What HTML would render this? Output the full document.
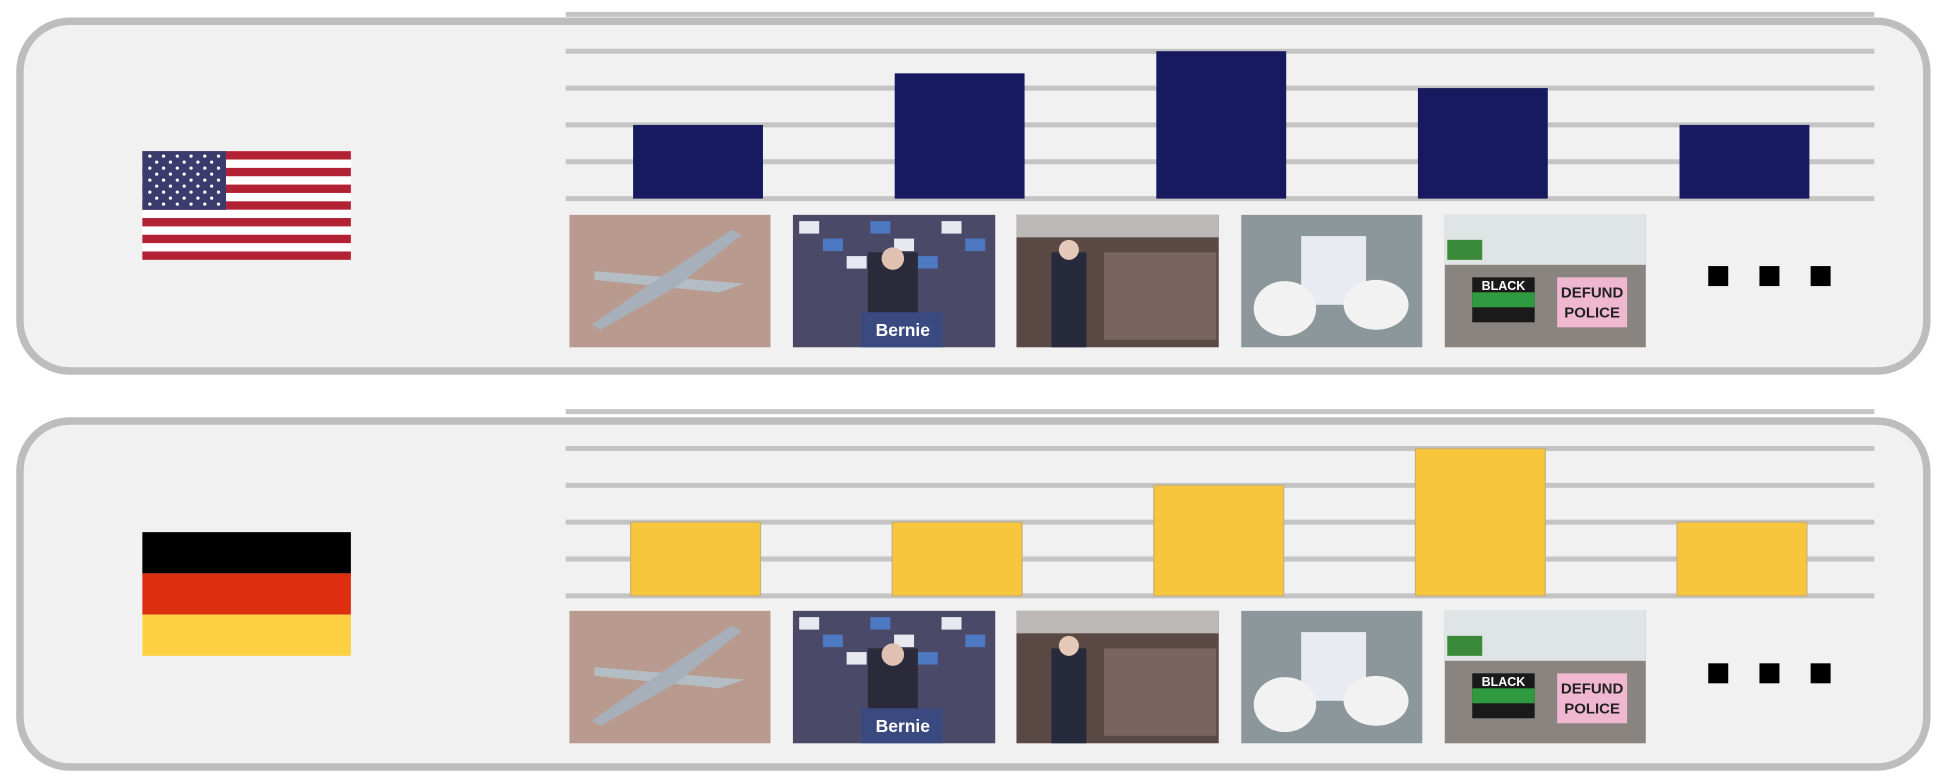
<!DOCTYPE html>
<html><head><meta charset="utf-8"><style>
html,body{margin:0;padding:0;background:#fff;}
svg{display:block;font-family:"Liberation Sans",sans-serif;}
</style></head><body>
<svg id="chart" width="1948" height="782" viewBox="0 0 1560 626" preserveAspectRatio="none" xmlns="http://www.w3.org/2000/svg"></svg>
<script>
const topics = ["drone", "bernie", "biden", "masks", "blm"];
const usValues = [2, 3.4, 4, 3, 2];
const deValues = [2, 2, 3, 4, 2];
const gridTicks = [0, 1, 2, 3, 4, 5];

const NS = "http://www.w3.org/2000/svg";
const svg = document.getElementById("chart");
function mk(tag, attrs, parent) {
  const e = document.createElementNS(NS, tag);
  for (const k in attrs) e.setAttribute(k, attrs[k]);
  (parent || svg).appendChild(e);
  return e;
}

const panels = [
  {name:"us", top:17, bottom:297, base:159, unit:29.5, values:usValues, color:"#171a5e", barX0:507, photoY:172},
  {name:"germany", top:337, bottom:614, base:477, unit:29.5, values:deValues, color:"#f8c63c", barX0:505, photoY:489}
];
const photoXs = [[456,617],[635,797],[814,976],[994,1139],[1157,1318]];

panels.forEach(p => {
  const g = mk("g", {});
  
  
  const r = mk("rect", {x:16, y:p.top, width:1527, height:p.bottom-p.top, rx:40, ry:40, fill:"#f1f1f1", stroke:"#bdbdbd", "stroke-width":6}, g);
  
  
  const y = v => p.base - v * p.unit;
  gridTicks.forEach(t => {
    const l = mk("line", {x1:453, x2:1501, y1:y(t), y2:y(t), stroke:"#c4c4c4", "stroke-width":4}, g);
    
    
  });
  p.values.forEach((v, i) => {
    const b = mk("rect", {x:p.barX0 + i*209.5, y:y(v), width:104, height:v*p.unit, fill:p.color, stroke:"#c9b07a", "stroke-width": p.name==="germany"?1:0}, g);
    
    
  });
  // photos
  photoXs.forEach((px, i) => {
    const pg = mk("g", {}, g);
    
    
    const x = px[0], w = px[1]-px[0], yy = p.photoY, h = 106;
    if (i === 0) {
      mk("rect", {x, y:yy, width:w, height:h, fill:"#b89b8e"}, pg);
      mk("polygon", {points:`${x+20},${yy+45} ${x+140},${yy+55} ${x+120},${yy+62} ${x+20},${yy+52}`, fill:"#b4bcc4"}, pg);
      mk("polygon", {points:`${x+65},${yy+55} ${x+130},${yy+12} ${x+138},${yy+16} ${x+85},${yy+58} ${x+25},${yy+92} ${x+18},${yy+88}`, fill:"#a7b0ba"}, pg);
    } else if (i === 1) {
      mk("rect", {x, y:yy, width:w, height:h, fill:"#4a4a68"}, pg);
      for (let k=0;k<8;k++) mk("rect",{x:x+5+k*19,y:yy+5+(k%3)*14,width:16,height:10,fill:k%2?"#4d78c2":"#e8e8f0"},pg);
      mk("rect", {x:x+60, y:yy+30, width:40, height:50, fill:"#2a2a3a"}, pg);
      mk("circle", {cx:x+80, cy:yy+35, r:9, fill:"#e0c0b0"}, pg);
      mk("rect", {x:x+55, y:yy+78, width:65, height:28, fill:"#3a4a80"}, pg);
      mk("text", {x:x+88, y:yy+97, "font-size":14, "font-weight":"bold", fill:"#fff", "text-anchor":"middle"}, pg).textContent = "Bernie";
    } else if (i === 2) {
      mk("rect", {x, y:yy, width:w, height:h, fill:"#5a4844"}, pg);
      mk("rect", {x, y:yy, width:w, height:18, fill:"#bcb8b8"}, pg);
      mk("rect", {x:x+28, y:yy+30, width:28, height:76, fill:"#262a3c"}, pg);
      mk("circle", {cx:x+42, cy:yy+28, r:8, fill:"#e4c8b8"}, pg);
      mk("rect", {x:x+70, y:yy+30, width:90, height:70, fill:"#7a6460"}, pg);
    } else if (i === 3) {
      mk("rect", {x, y:yy, width:w, height:h, fill:"#8c979c"}, pg);
      mk("rect", {x:x+48, y:yy+17, width:52, height:55, fill:"#e8ecf2"}, pg);
      mk("ellipse", {cx:x+35, cy:yy+75, rx:25, ry:22, fill:"#f2f2f2"}, pg);
      mk("ellipse", {cx:x+108, cy:yy+72, rx:26, ry:20, fill:"#f2f2f2"}, pg);
    } else {
      mk("rect", {x, y:yy, width:w, height:h, fill:"#8a8480"}, pg);
      mk("rect", {x, y:yy, width:w, height:40, fill:"#dfe4e4"}, pg);
      mk("rect", {x:x+2, y:yy+20, width:28, height:16, fill:"#3a8a3a"}, pg);
      mk("rect", {x:x+22, y:yy+50, width:50, height:36, fill:"#1a1a1a"}, pg);
      mk("rect", {x:x+22, y:yy+62, width:50, height:12, fill:"#2f9a40"}, pg);
      mk("text", {x:x+47, y:yy+60, "font-size":10, "font-weight":"bold", fill:"#fff", "text-anchor":"middle"}, pg).textContent = "BLACK";
      mk("rect", {x:x+90, y:yy+50, width:56, height:40, fill:"#f0b8d0"}, pg);
      mk("text", {x:x+118, y:yy+66, "font-size":12, "font-weight":"bold", fill:"#222", "text-anchor":"middle"}, pg).textContent = "DEFUND";
      mk("text", {x:x+118, y:yy+82, "font-size":12, "font-weight":"bold", fill:"#222", "text-anchor":"middle"}, pg).textContent = "POLICE";
    }
  });
  // ellipsis dots
  const dy = p.name === "us" ? 213 : 531;
  [1368, 1409, 1450].forEach(dx => {
    const d = mk("rect", {x:dx, y:dy, width:16, height:16, fill:"#000"}, g);
    
    
  });
});

// US flag
const us = mk("g", {});


mk("rect", {x:114, y:121, width:167, height:87, fill:"#fff"}, us);
for (let s=0; s<13; s+=2) mk("rect", {x:114, y:121 + s*87/13, width:167, height:87/13, fill:"#b22234"}, us);
mk("rect", {x:114, y:121, width:67, height:47, fill:"#3c3b6e"}, us);
for (let r=0;r<9;r++) for (let c=0;c<(r%2?5:6);c++) mk("circle",{cx:120+c*11+(r%2?5.5:0), cy:125+r*4.8, r:1.3, fill:"#fff"}, us);

// German flag
const de = mk("g", {});


mk("rect", {x:114, y:426, width:167, height:33, fill:"#000"}, de);
mk("rect", {x:114, y:459, width:167, height:33, fill:"#dd2e10"}, de);
mk("rect", {x:114, y:492, width:167, height:33, fill:"#fcd040"}, de);
</script>
</body></html>
